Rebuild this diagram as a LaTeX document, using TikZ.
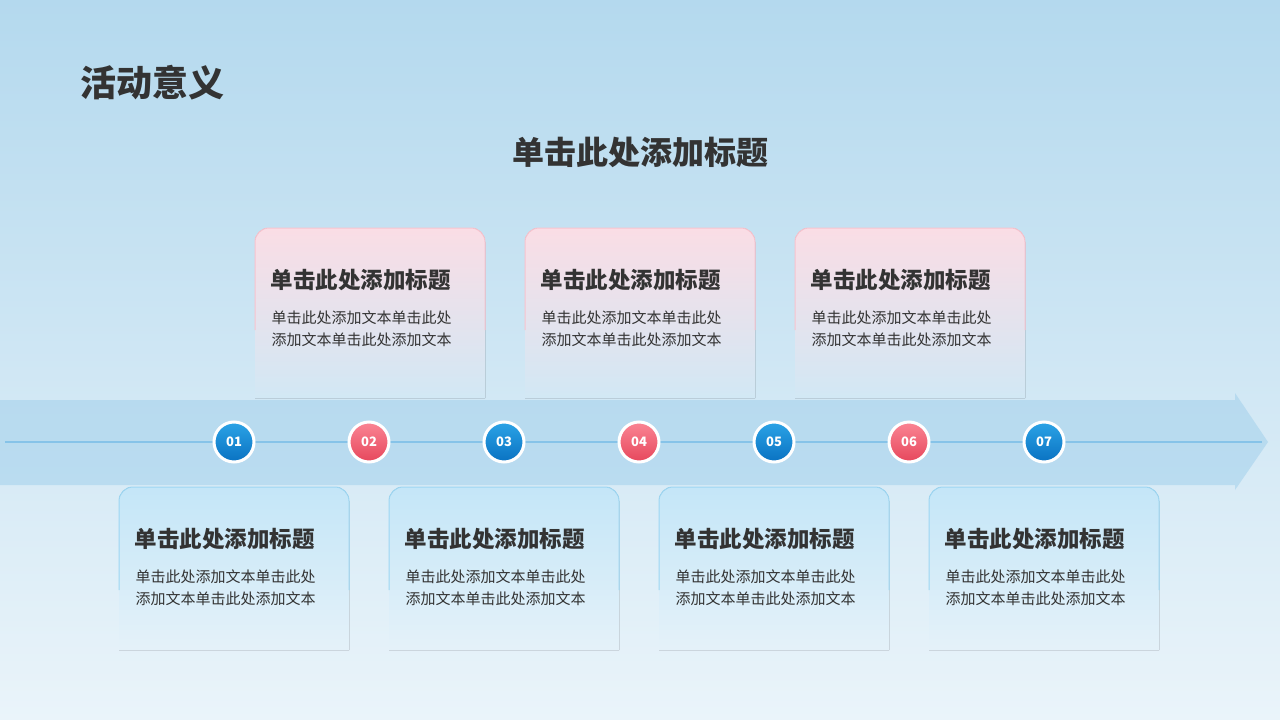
\documentclass[tikz,border=0pt]{standalone}
\usepackage{fontspec}
\setmainfont{Noto Sans CJK SC}
\usetikzlibrary{positioning}
\definecolor{bgtop}{HTML}{B4D9EE}
\definecolor{bgbot}{HTML}{EAF4FA}
\definecolor{txtdark}{HTML}{333333}
\definecolor{pinkcard}{HTML}{FADDE5}
\definecolor{pinkline}{HTML}{F7C3CE}
\definecolor{bluecard}{HTML}{C4E6F8}
\definecolor{blueline}{HTML}{9DD6F2}
\definecolor{bandblue}{HTML}{A6D2EC}
\definecolor{axisblue}{HTML}{86C3E8}
\definecolor{dotblueA}{HTML}{2BA3E6}
\definecolor{dotblueB}{HTML}{0A72C2}
\definecolor{dotpinkA}{HTML}{FA8594}
\definecolor{dotpinkB}{HTML}{E6475C}
\tikzset{
  cardtitle/.style={anchor=west,text=txtdark,font=\bfseries\fontsize{22.5pt}{26pt}\selectfont},
  cardbody/.style={anchor=north west,text=txtdark,align=left,font=\fontsize{15pt}{22pt}\selectfont},
  dotblue/.style={circle,minimum size=40pt,inner sep=0pt,draw=white,line width=3pt,
    top color=dotblueA,bottom color=dotblueB,text=white,font=\bfseries\fontsize{13pt}{13pt}\selectfont},
  dotpink/.style={dotblue,top color=dotpinkA,bottom color=dotpinkB},
}
\begin{document}
\begin{tikzpicture}[x=1pt,y=-1pt]
\useasboundingbox (0,0) rectangle (1280,720);
\fill[top color=bgtop,bottom color=bgbot] (0,0) rectangle (1280,720);
%% headings
\node (head) [anchor=west,text=txtdark,font=\bfseries\fontsize{36pt}{38pt}\selectfont] at (77,83) {活动意义};
\node (maintitle) [text=txtdark,font=\bfseries\fontsize{32pt}{34pt}\selectfont] at (640,152) {单击此处添加标题};
%% top cards
\foreach \cx in {370,640,910}{
  \fill[top color=pinkcard,bottom color=bgbot!55!bgtop]
    (\cx-115,398) -- (\cx-115,242) arc (180:270:14) -- (\cx+101,228) arc (270:360:14) -- (\cx+115,398) -- cycle;
  \draw[pinkline,line width=1pt]
    (\cx-115,330) -- (\cx-115,242) arc (180:270:14) -- (\cx+101,228) arc (270:360:14) -- (\cx+115,330);
  \node[cardtitle] at (\cx-103,280) {单击此处添加标题};
  \node[cardbody] at (\cx-102,307) {单击此处添加文本单击此处\\添加文本单击此处添加文本};
}
%% band and arrow
\fill[bandblue,opacity=0.6] (0,400) -- (1235,400) -- (1235,393) -- (1268,442) -- (1235,490) -- (1235,485) -- (0,485) -- cycle;
\coordinate (lineL) at (5,442);
\coordinate (lineR) at (1262,442);
\draw[axisblue,line width=2.5pt] (lineL) -- (lineR);
%% bottom cards
\foreach \cx in {234,504,774,1044}{
  \fill[top color=bluecard,bottom color=bgbot!90!bgtop]
    (\cx-115,650) -- (\cx-115,501) arc (180:270:14) -- (\cx+101,487) arc (270:360:14) -- (\cx+115,650) -- cycle;
  \draw[blueline,line width=1pt]
    (\cx-115,590) -- (\cx-115,501) arc (180:270:14) -- (\cx+101,487) arc (270:360:14) -- (\cx+115,590);
  \node[cardtitle] at (\cx-103,539) {单击此处添加标题};
  \node[cardbody] at (\cx-102,566) {单击此处添加文本单击此处\\添加文本单击此处添加文本};
}
%% step dots
\node (d1) [dotblue] at (234,442) {01};
\node (d2) [dotpink] at (369,442) {02};
\node (d3) [dotblue] at (504,442) {03};
\node (d4) [dotpink] at (639,442) {04};
\node (d5) [dotblue] at (774,442) {05};
\node (d6) [dotpink] at (909,442) {06};
\node (d7) [dotblue] at (1044,442) {07};
\end{tikzpicture}
\end{document}
